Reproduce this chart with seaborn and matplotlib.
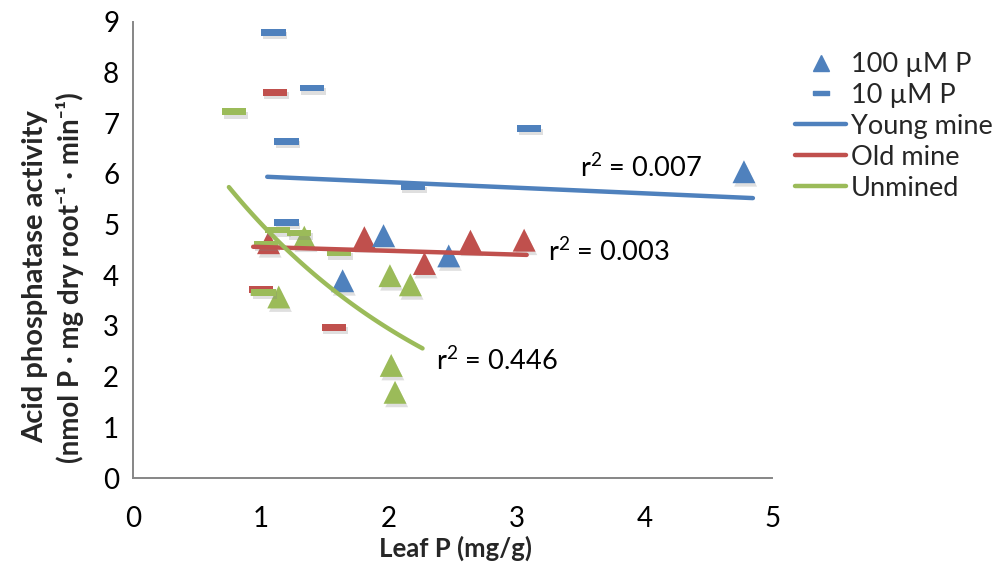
import numpy as np
import pandas as pd
import seaborn as sns
import matplotlib
matplotlib.use("Agg")
import matplotlib.pyplot as plt
from matplotlib.lines import Line2D
import matplotlib.patheffects as pe

# ---------------- data ----------------
# 100 uM P (triangles)
young_100_x = [1.64, 1.96, 2.47, 4.78]
young_100_y = [3.89, 4.78, 4.38, 6.04]
old_100_x = [1.06, 1.81, 2.28, 2.64, 3.06]
old_100_y = [4.64, 4.74, 4.23, 4.67, 4.69]
unmined_100_x = [1.34, 1.14, 2.01, 2.17, 2.02, 2.05]
unmined_100_y = [4.75, 3.57, 3.99, 3.81, 2.22, 1.69]

# 10 uM P (dashes)
young_10_x = [1.10, 1.40, 1.20, 1.20, 2.19, 3.10]
young_10_y = [8.79, 7.69, 6.64, 5.04, 5.75, 6.89]
old_10_x = [1.11, 1.00, 1.57]
old_10_y = [7.61, 3.72, 2.97]
unmined_10_x = [0.79, 1.13, 1.30, 1.04, 1.61, 1.02]
unmined_10_y = [7.22, 4.89, 4.83, 4.61, 4.44, 3.66]

# trend lines
young_trend_x = [1.05, 4.85]
young_trend_y = [5.94, 5.52]
old_trend_x = [0.94, 3.08]
old_trend_y = [4.56, 4.40]
unmined_trend_x = [0.75, 1.04, 1.43, 1.58, 1.97, 2.265]
unmined_trend_y = [5.68, 4.92, 4.04, 3.71, 2.98, 2.54]

r2_labels = ["r$^2$ = 0.007", "r$^2$ = 0.003", "r$^2$ = 0.446"]
r2_x = [3.50, 3.25, 2.37]
r2_y = [6.12, 4.45, 2.30]

legend_labels = ["100 µM P", "10 µM P", "Young mine", "Old mine", "Unmined"]
x_ticks = [0, 1, 2, 3, 4, 5]
y_ticks = list(range(0, 10))

# ---------------- style ----------------
BLUE = "#4F81BD"
RED = "#C0504D"
GREEN = "#9BBB59"
GRAY = "#868686"

sns.set_style("white")
plt.rcParams["font.family"] = ["Lato", "DejaVu Sans"]
plt.rcParams["mathtext.fontset"] = "custom"
plt.rcParams["mathtext.rm"] = "Lato"
plt.rcParams["mathtext.it"] = "Lato:italic"
plt.rcParams["mathtext.bf"] = "Lato:bold"

fig = plt.figure(figsize=(10.01, 5.69), dpi=100)
ax = fig.add_axes([0.1329, 0.1599, 0.6384, 0.8021])

dash_marker = [(-1, -0.28), (1, -0.28), (1, 0.28), (-1, 0.28), (-1, -0.28)]
shadow = [pe.SimplePatchShadow(offset=(1.2, -2.5), shadow_rgbFace="#808080", alpha=0.25), pe.Normal()]

groups = [
    (old_100_x, old_100_y, old_10_x, old_10_y, RED),
    (young_100_x, young_100_y, young_10_x, young_10_y, BLUE),
    (unmined_100_x, unmined_100_y, unmined_10_x, unmined_10_y, GREEN),
]
for tx, ty, dx, dy, col in groups:
    df_t = pd.DataFrame({"x": tx, "y": ty})
    df_d = pd.DataFrame({"x": dx, "y": dy})
    sns.scatterplot(data=df_t, x="x", y="y", ax=ax, marker="^", s=16.5 ** 2,
                    color=col, linewidth=0, edgecolor="none", zorder=3,
                    path_effects=shadow, legend=False)
    sns.scatterplot(data=df_d, x="x", y="y", ax=ax, marker=dash_marker, s=17.5 ** 2,
                    color=col, linewidth=0, edgecolor="none", zorder=3,
                    path_effects=shadow, legend=False)

# trend lines
sns.lineplot(x=young_trend_x, y=young_trend_y, ax=ax, color=BLUE, lw=3.2,
             solid_capstyle="round", zorder=4, legend=False)
sns.lineplot(x=old_trend_x, y=old_trend_y, ax=ax, color=RED, lw=3.2,
             solid_capstyle="round", zorder=4, legend=False)
# exponential trend through the read points
b, ln_a = np.polyfit(unmined_trend_x, np.log(unmined_trend_y), 1)
xs = np.linspace(unmined_trend_x[0], unmined_trend_x[-1], 100)
sns.lineplot(x=xs, y=np.exp(ln_a) * np.exp(b * xs), ax=ax, color=GREEN, lw=3.2,
             solid_capstyle="round", zorder=4, legend=False, sort=False)

for lab, x, y in zip(r2_labels, r2_x, r2_y):
    ax.text(x, y, lab, ha="left", va="center", fontsize=19.5, color="black", zorder=5)

ax.set_xlim(0, 5)
ax.set_ylim(0, 9)
ax.set_xticks(x_ticks)
ax.set_yticks(y_ticks)
ax.set_xlabel("")
ax.set_ylabel("")
for s in ["top", "right"]:
    ax.spines[s].set_visible(False)
for s in ["left", "bottom"]:
    ax.spines[s].set_color(GRAY)
    ax.spines[s].set_linewidth(1.4)
ax.tick_params(axis="both", direction="out", length=6, width=1.2, color=GRAY,
               labelsize=20, labelcolor="black")
ax.tick_params(axis="x", pad=14)
ax.tick_params(axis="y", pad=4)

fig.text(0.455, 1 - 548 / 569, "Leaf P (mg/g)", ha="center", va="center",
         fontsize=18.5, fontweight="bold")
fig.text(35 / 1001, 1 - 277 / 569, "Acid phosphatase activity",
         ha="center", va="center", rotation=90, fontsize=21, fontweight="bold")
fig.text(70 / 1001, 1 - 278 / 569, "(nmol P · mg dry root⁻¹ · min⁻¹)",
         ha="center", va="center", rotation=90, fontsize=20, fontweight="bold")

handles = [
    Line2D([], [], ls="none", marker="^", color=BLUE, ms=11),
    Line2D([], [], ls="none", marker=dash_marker, color=BLUE, ms=12),
    Line2D([], [], color=BLUE, lw=3.2, solid_capstyle="round"),
    Line2D([], [], color=RED, lw=3.2, solid_capstyle="round"),
    Line2D([], [], color=GREEN, lw=3.2, solid_capstyle="round"),
]
fig.legend(handles, legend_labels, loc="upper left",
           bbox_to_anchor=(795 / 1001, 1 - 52 / 569), frameon=False,
           fontsize=19.5, handlelength=1.9, handletextpad=0.15,
           labelspacing=0.22, borderaxespad=0, borderpad=0)

fig.savefig("out.png", dpi=100)
